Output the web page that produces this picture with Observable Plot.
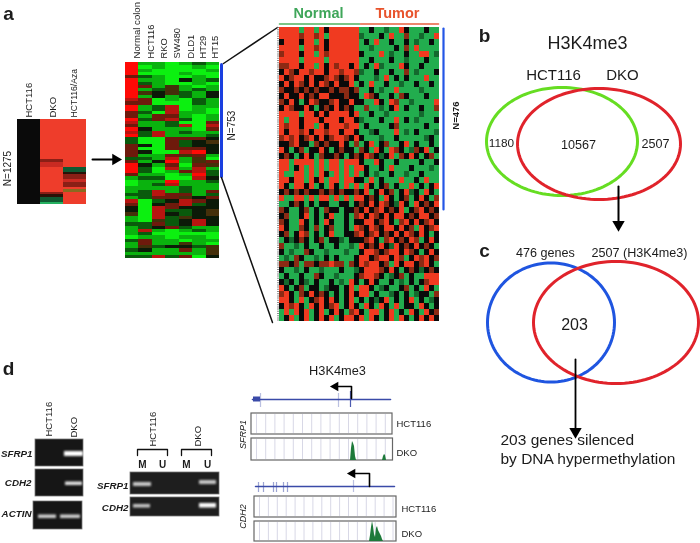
<!DOCTYPE html>
<html><head><meta charset="utf-8">
<style>html,body{margin:0;padding:0;background:#fff}svg{display:block;filter:blur(.35px)}</style>
<script src="https://cdn.jsdelivr.net/npm/d3@7"></script>
<script src="https://cdn.jsdelivr.net/npm/@observablehq/plot@0.6"></script>
</head><body><div id="chart"></div>
<script>
// ---- data ----
const cellLinesA = ["HCT116","DKO","HCT116/Aza"];
const cellLinesB = ["Normal colon","HCT116","RKO","SW480","DLD1","HT29","HT15"];
const counts = {first:"N=1275",second:"N=753",third:"N=476"};
const groups = ["Normal","Tumor"];
const vennB = ["H3K4me3","HCT116","DKO","1180","10567","2507"];
const vennC = ["476 genes","2507 (H3K4me3)","203","203 genes silenced","by DNA hypermethylation"];
const genes = ["SFRP1","CDH2","ACTIN"];
const heat1 = ["KRR","KRR","KRR","KRR","KRR","KRR","KRR","KRR","KRR","KRR","KRR","KRR","KRR","KRR","KRR","KRR","KdR","KrR","KrR","KRm","KRm","KRk","KRd","KRd","KRr","KRd","KRd","KRR","KRo","KdR","KkR","KmR","KmR","KgR"];
const heat2 = ["Rgglgmg","Rlgllgl","Rgllllg","Rlllgll","dmgllgl","Rgglkgm","Rmgllgl","Rdgeglg","Rgmegmg","Rekemgk","Rgkgmgk","rdlglmg","ddlllmg","Rgmrlgg","Rgmrlgl","dmlrggl","dgddglg","Rmdrmlg","rggmlld","dggmrlr","Rkgggld","rmrgmgg","Rmrgggm","mlldddk","mlldmke","dkldmkk","dlldddk","dkllrRk","dggdedg","mmgrgel","dgkRged","Rkgdlde","Rmlrgrg","Rmlgdrm","dgglgRm","gmmllrk","lggRggm","lgmrggg","ggggmgg","gmrgmgd","mmrddgm","gmddekd","rlmkrdk","dlkdrmk","klrdkkk","klrmmke","elrkmke","glrmekk","glemkrk","mmdmkrk","gmkdmgg","grglgmg","gmlllll","lgglggl","mdgglgg","gdggegl","gemkkme","mkggdge","gggggge","mmrmdlk"];
const heat3 = [
"RRRRGRRGRKRRRRRR GGKGGMGGRKGGGKGG","RRRRDRRDRGRRRRRR MGGGKGRGGDGGMGGR","KRRRKRRGRKRRRRRR GKGRGGKGGKGMGGKG","RRRRGRRDRKRRRRRR GGMGGGGKGDGRGGGG","DRRRKRRGRDRRRRRR KGGGRGMGGKGGRRGM","RRRRGRRRRGRRRRRR GGKGGGKGGMGGGKGG","DDRRKRRGRKRDRRKR GKGRMGGGRKGGKGGG",
"KRDKRRDRRKRRDRRD MGGKGGKGGDGMGGGK","RKDRRKRKKDRDKDRK GGGMGRGKGKGGGRGG","KRKRDKRKRDKRKKRG KGRGGKGGMGGKGGKG","DKKDKDKDKKDKDDKD GGKGMGGRGGGGMGGG","KRKKRKDKRRKKKDKK GRDKGGKGDKGGGKGG","DKRKGKRDKKDRKKRK KGGRKGRDGGMGGGGR","KRDKKRKGKDKRKDKG GDGGMGKRGKGGKGGD",
"RRRRGRRKRKRRRRKR GGKGGMGGGGGGMGGG","RGRRKRRRKRRRKRRK MGGGKGGRGKGMGGGK","RDRRKRRGRKRRRDRR GKGGGGKDGGGGGKGG","RKRRDRKRRDRRKRRK GGMKGGGRGMGKGGGM","DRDRKDRKRKDRRDKR KGGGMGGKGGGGGMKG",
"KKDRKKGDKDKKRKGD GKRGKDGGKRGKGGKG","RKGKDGKKRKGKDKKG DKGRKGRDKGMDKRGK","KDKGKRKGDKKDKGKD KRDKMKRGDKRKGKDG",
"RRGRRRRGRGRRGRRR KGGRKGGKGGGGKGGK","RRGKRGRGRGRRGRGR RKGGKGRGGGKGGGMG","RGGRRGRGRKGRGRGR GKGMGGKGGMGGKGGG","RRKRRGRKRGRRGRRK KGRGKGGGRGGKGRGG","RKGRRKRGKGRKGRGR GRKGKDGKGGRGKGKR",
"KDKDKDKKDKDKDKKD KRGKRKDGKRMKGRKG","RGGRRGRGRRGRGRGR RKDKGRKGKDGKRKGD","GGKDKGKGKKGGKKGK DKRKRDKMRKGRKDKR",
"DKGGKDGKGDKKGKKD KRKDRKDKRGKDRKDK","KDGGKRGKGKRGGKGD RKRDKRKRRKDKRRKD","DKGGRKGKGRKGGKGK KRRKDRKGDRKRKDRK","RKGGDKGDGKDGGKGR DKRDKRRKRKDGRKDR","KDGKRDGKGKRGGKKD RKDRKDKRKRDKRKGK",
"GKMKDKGKDGKKMGKK KDRKGDRKDKRDGKRK","DGGMGKGGKGGKGGMG RKDKRKMRKDKRKDKG","KGMGGDKGGMGGGMGG KRRDKDRRKRDKGKRK","GMGDKGGMGKGKGGGK RRKDRRKRDGKRDRKD","DDKDGDDKDDRDDGDK RDRRKDGRKRRKDRKG","KGGMGKGGMGGGKGGM KRRRDKRKGKDKMKDK",
"GKGGKGGDKGGMGGGK DRRDKGMKDGKGGRRR","KMKGKMGKGGKGMGRK GKRKGGKGMGKGKDRR","RKGKDGKKGMKKGKRG RRKGMKGGKDGKGRKG","DRKGDKRKDKGKGKRK RRGKGGMKGKGMKKGD",
"RRKGRGKDRKRKGKRG KGKMKRGKGKRGKGMK","KRDRKGRKRKDRGKRK GRKGRKGRGKKGRKGK","GRGRKRGKRGKRKGDR KGRRGKRGKGRKGRKD","GKRGKRGKRKRGKRRK RGRKGKRGRKGKRKRK"];
const peaksSFRP1 = [[350,0],[351,12],[352,19],[353,17],[354,14],[355,4],[356,0]];
const smallPeakSFRP1 = [[382,0],[383,4],[384,6],[385,5],[386,0]];
const peaksCDH2 = [[369,0],[370,6],[371,14],[372,20],[373,15],[374,7],[375,4],[376,13],[377,15],[378,11],[379,9],[380,7],[381,5],[382,2],[383,0]];

// ---- styles ----
const palette = {K:"#0a0a0a",R:"#f03a20",D:"#8c2a14",G:"#22ad4e",M:"#14692e",
  r:"#b81510",d:"#6e1a0c",e:"#45300a",k:"#0c1a08",m:"#0a5a0c",g:"#0ab20e",l:"#0cf010",o:"#8a6a20"};
const palette2 = {...palette,R:"#ff0a06"};
const palette1 = {...palette,R:"#ee3d2b",m:"#0f5a32",g:"#25b060",r:"#c92a22",d:"#8a1f16",k:"#2a1208"};

function cells(rows, x0, y0, w, h, pal){
  const out=[];
  rows.forEach((row,j)=>{[...row.replace(" ","")].forEach((c,i)=>{
    out.push({x1:x0+i*w,x2:x0+(i+1)*w,y1:y0+j*h,y2:y0+(j+1)*h,c:pal[c]});
  });});
  return out;
}
const rectM = (data,opt)=>Plot.rect(data,{x1:"x1",x2:"x2",y1:"y1",y2:"y2",...opt});
const box = (x1,y1,x2,y2)=>({x1,y1,x2,y2});
const seg = (pts,stroke,strokeWidth,extra={})=>Plot.line(pts,{x:"0",y:"1",stroke,strokeWidth,curve:"linear",...extra});
const T = (t,x,y,s,o={})=>Plot.text([0],{x:()=>x,y:()=>y,text:()=>t,fontSize:s,fontFamily:"Liberation Sans",fill:"#1c1c1c",...o});
const V = (t,x,y,s,o={})=>T(t,x,y,s,{rotate:-90,textAnchor:"start",...o});
const ellipse = (cx,cy,rx,ry,stroke)=>Plot.line(d3.range(0,361,3),{x:a=>cx+rx*Math.cos(a*Math.PI/180),y:a=>cy+ry*Math.sin(a*Math.PI/180),stroke,strokeWidth:3,curve:"linear"});
const head = (x,y,rotate,r=4.2)=>Plot.dot([0],{x:()=>x,y:()=>y,symbol:"triangle",r,fill:"#000",rotate});
const bold = {fontWeight:"bold"};
const it = {fontStyle:"italic",fontWeight:"bold"};
const blue="#3a4aa8";
const grid = (x0,x1,step,y1,y2)=>Plot.ruleX(d3.range(x0,x1,step),{x:d=>d,y1,y2,stroke:"#d8d8e6",strokeWidth:1});
const peak = (pts,base)=>Plot.areaY(pts,{x:"0",y1:()=>base,y2:d=>base-d[1],fill:"#1d7a3a",curve:"linear"});
const tick = (xs,y1,y2,o=.55)=>Plot.ruleX(xs,{x:d=>d,y1,y2,stroke:blue,strokeOpacity:o,strokeWidth:1.2});
const bandBlur = {imageFilter:"blur(1.1px)"};

const marks = [
  // panel letters
  T("a",8,13,19,bold),T("b",484,35,19,bold),T("c",484,250,19,bold),T("d",8,368,19,bold),

  // first heatmap
  rectM(cells(heat1,17,119,23,2.5,palette1),{fill:"c",shapeRendering:"crispEdges"}),
  ...cellLinesA.map((t,i)=>V(t,[28,52,74][i],117,[9.5,9.5,8.6][i])),
  T(counts.first,7,168,10,{rotate:-90}),
  seg([[92,159],[114,159]],"#000",2), head(115,159,90),

  // second heatmap
  rectM(cells(heat2,125,62,13.45,3.27,palette2),{fill:"c",shapeRendering:"crispEdges"}),
  ...cellLinesB.map((t,i)=>V(t,[136,151,164,177,191,203,215][i],58,i?9.3:9.6)),
  seg([[221,64],[221,176]],"#1a3fe0",3),
  T(counts.second,231,125,10,{rotate:-90}),
  seg([[223,63],[277,27]],"#111",1.5),
  seg([[221,177],[272,322]],"#111",1.5),

  // third heatmap
  rectM(cells(heat3,279,27,5,6,palette),{fill:"c",shapeRendering:"crispEdges",imageFilter:"blur(.6px)"}),
  Plot.ruleX([277.5],{x:d=>d,y1:27,y2:321,stroke:"#666",strokeWidth:1.5,strokeDasharray:"1 1.2"}),
  seg([[279,23.5],[359,23.5]],"#4fb35f",1.6),
  seg([[360,23.5],[438,23.5]],"#e8603f",1.6),
  T(groups[0],318,13,14.5,{...bold,fill:"#3fa65a"}),
  T(groups[1],397,13,14.5,{...bold,fill:"#e8532c"}),
  seg([[443,28],[443,209]],"#2456e6",2.2),
  T(counts.third,455,115,9.5,{rotate:-90,fontWeight:"bold"}),

  // venn b
  T(vennB[0],587,43,18),
  T(vennB[1],553,75,15),T(vennB[2],622,75,15),
  ellipse(561.5,141,75.5,54,"#66dd22"),
  ellipse(598.5,143.5,81.5,55.5,"#e0232b"),
  T(vennB[3],501,143,11.8),T(vennB[4],578,144,12.6),T(vennB[5],655,143,12.6),
  seg([[618,186],[618,222]],"#000",2), head(618,224,180,4.6),

  // venn c
  T(vennC[0],545,252,12.6),T(vennC[1],639,252,12.6),
  ellipse(550.5,322,63.5,59.5,"#1f55e0"),
  ellipse(615.5,322,82.5,61,"#e0232b"),
  T(vennC[2],574,324,16),
  seg([[575,359],[575,430]],"#000",1.8), head(575,431,180,4.6),
  T(vennC[3],500,440,15.5,{textAnchor:"start"}),
  T(vennC[4],500,459,15.5,{textAnchor:"start"}),

  // gels, first set
  V(cellLinesA[0],48,436,9.5),V(cellLinesA[1],73,437,9.5),
  rectM([box(35,439,83,466),box(35,469,83,496),box(33,501,82,529)],{fill:"#161616",stroke:"#777",strokeWidth:.8}),
  rectM([box(64,451,83,456)],{fill:"#fff",imageFilter:"blur(.9px)"}),
  rectM([box(65,481.5,82,485)],{fill:"#e6e6e6",...bandBlur}),
  rectM([box(38,514.5,56,518),box(60,514.5,80,518)],{fill:"#d2d2d2",...bandBlur}),
  T(genes[0],32,453,9.8,{...it,textAnchor:"end"}),
  T(genes[1],31,482,9.8,{...it,textAnchor:"end"}),
  T(genes[2],31,513,9.8,{...it,textAnchor:"end"}),

  // gels, second set
  V(cellLinesA[0],152,446,9.5),V(cellLinesA[1],197,446,9.5),
  seg([[137,455],[137,449],[167,449],[167,455]],"#111",1.3),
  seg([[181,455],[181,449],[211,449],[211,455]],"#111",1.3),
  ...["M","U","M","U"].map((t,i)=>T(t,[142,162,186,207][i],464,10,{fontWeight:"bold"})),
  rectM([box(130,472,219,494),box(130,497,219,516)],{fill:"#1e1e1e",stroke:"#777",strokeWidth:.8}),
  rectM([box(133,482,151,486),box(133,504,150,507.5),box(199,480,216,484)],{fill:"#c8c8c8",...bandBlur}),
  rectM([box(199,503,216,507.5)],{fill:"#fff",imageFilter:"blur(.8px)"}),
  T(genes[0],128,485,9.8,{...it,textAnchor:"end"}),
  T(genes[1],128,507,9.8,{...it,textAnchor:"end"}),

  // tracks, SFRP1
  T(vennB[0],337,370,12.8),
  seg([[252,399],[390,399]],blue,1.6),
  rectM([box(253,396.5,260,401.5)],{fill:blue}),
  tick([260,338],393,407,.35), tick([350],391,407,.9),
  seg([[351,398],[351,386],[338,386]],"#000",1.6), head(335,386,-90,3.6),
  rectM([box(251,413,392,434),box(251,438,392.5,460)],{fill:"#fff",stroke:"#666",strokeWidth:1.2}),
  grid(256,392,9.2,414,433), grid(256,392,9.2,439,459),
  peak(peaksSFRP1,460), peak(smallPeakSFRP1,460),
  T(cellLinesA[0],396,423,9.5,{textAnchor:"start"}),
  T(cellLinesA[1],396,452,9.5,{textAnchor:"start"}),
  T(genes[0],243,434,9,{rotate:-90,fontStyle:"italic"}),

  // tracks, CDH2
  seg([[255,486],[394,486]],blue,1.5),
  tick([258,263,273,276,283,287],482,492,.5), tick([353],480,492,.35),
  seg([[369,486],[369,473],[355,473]],"#000",1.6), head(352,473,-90,3.6),
  rectM([box(254,496,396,517),box(254,521,396,541)],{fill:"#fff",stroke:"#666",strokeWidth:1.2}),
  grid(259,396,8.9,497,516), grid(259,396,8.9,522,540),
  peak(peaksCDH2,541),
  T(cellLinesA[0],401,508,9.5,{textAnchor:"start"}),
  T(cellLinesA[1],401,533,9.5,{textAnchor:"start"}),
  T(genes[1],243,516,9,{rotate:-90,fontStyle:"italic"})
];

const chart = Plot.plot({
  width:700,height:543,margin:0,
  x:{domain:[0,700],range:[0,700],axis:null},
  y:{domain:[0,543],range:[0,543],axis:null},
  color:{type:"identity"},
  marks
});
document.getElementById("chart").append(chart);
</script></body></html>
